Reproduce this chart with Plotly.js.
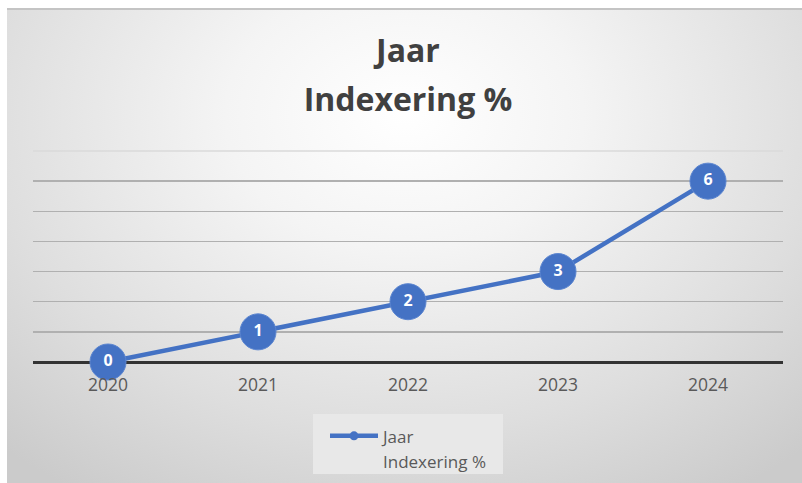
<!DOCTYPE html>
<html>
<head>
<meta charset="utf-8">
<script src="https://cdn.plot.ly/plotly-3.0.1.min.js"></script>
<style>
  html, body { margin: 0; padding: 0; background: #ffffff; }
  #wrap { position: relative; width: 802px; height: 483px; overflow: hidden; }
  #bg {
    position: absolute; left: 7px; top: 8px; width: 795px; height: 475px;
    border-top: 2px solid #c4c4c4;
    background: radial-gradient(ellipse 75% 95% at 50% 22%, #ffffff 0%, #f4f4f4 30%, #dedede 70%, #cbcbcb 100%);
  }
  #chart { position: absolute; left: 0; top: 0; width: 802px; height: 483px; }
</style>
</head>
<body>
<div id="wrap">
  <div id="bg"></div>
  <div id="chart"></div>
</div>
<script>
const years = ['2020', '2021', '2022', '2023', '2024'];
const indexering = [0, 1, 2, 3, 6];
const titleLines = ['Jaar', 'Indexering %'];
const seriesLines = ['Jaar', 'Indexering %'];

const blue = '#4472C4';
const fontFam = '"Open Sans", "Noto Sans", sans-serif';

const span = (t, px) => "<span style='font-size:" + px + "px'>" + t + "</span>";

const traces = [
  {
    x: years, y: indexering,
    type: 'scatter', mode: 'lines+markers+text',
    text: indexering.map(String),
    textposition: 'middle center',
    textfont: { color: '#ffffff', size: 16, family: fontFam, weight: 'bold' },
    line: { color: blue, width: 4.5 },
    marker: { color: blue, size: 36, line: { color: '#5b85d0', width: 1 } },
    showlegend: false, cliponaxis: false, hoverinfo: 'x+y'
  },
  {
    x: [null], y: [null],
    name: seriesLines.map(t => span(t, 17)).join('<br>'),
    type: 'scatter', mode: 'lines+markers',
    line: { color: blue, width: 4.5 },
    marker: { color: blue, size: 9 },
    showlegend: true
  }
];

const layout = {
  width: 802, height: 483,
  margin: { l: 33, r: 19, t: 151, b: 121, autoexpand: false },
  paper_bgcolor: 'rgba(0,0,0,0)',
  plot_bgcolor: 'rgba(0,0,0,0)',
  title: {
    text: titleLines.map(t => span(t, 32)).join('<br>'),
    font: { family: fontFam, size: 37.7, color: '#404040', weight: 'bold' },
    x: 0.5, xanchor: 'center', xref: 'paper',
    y: 1 - 62 / 483, yanchor: 'middle', yref: 'container'
  },
  xaxis: {
    type: 'category', range: [-0.5, 4.5],
    showgrid: false, zeroline: false, showline: false,
    ticks: '', ticklabelstandoff: 10,
    tickfont: { family: fontFam, size: 17.5, color: '#595959' },
    fixedrange: true
  },
  yaxis: {
    range: [0, 7], dtick: 1, tick0: 0,
    showticklabels: false, ticks: '',
    showgrid: true, gridcolor: '#b0b0b0', gridwidth: 1.5,
    zeroline: true, zerolinecolor: '#333333', zerolinewidth: 3,
    showline: false, fixedrange: true
  },
  shapes: [
    { type: 'line', xref: 'paper', yref: 'paper', x0: 0, x1: 1, y0: 1, y1: 1,
      line: { color: '#dadada', width: 1.5 }, layer: 'below' },
    { type: 'rect', xref: 'paper', yref: 'paper',
      x0: (313 - 33) / 750, x1: (503 - 33) / 750,
      y0: (362 - 414) / 211, y1: (362 - 474) / 211,
      fillcolor: '#e8e8e8', line: { width: 0 }, layer: 'below' }
  ],
  showlegend: true,
  legend: {
    x: (325 - 33) / 750, xanchor: 'left', y: (362 - 417) / 211, yanchor: 'top',
    bgcolor: 'rgba(0,0,0,0)', borderwidth: 0, valign: 'top',
    font: { family: fontFam, size: 19, color: '#595959' },
    itemwidth: 48
  }
};

Plotly.newPlot('chart', traces, layout, { staticPlot: true, displayModeBar: false });
</script>
</body>
</html>
